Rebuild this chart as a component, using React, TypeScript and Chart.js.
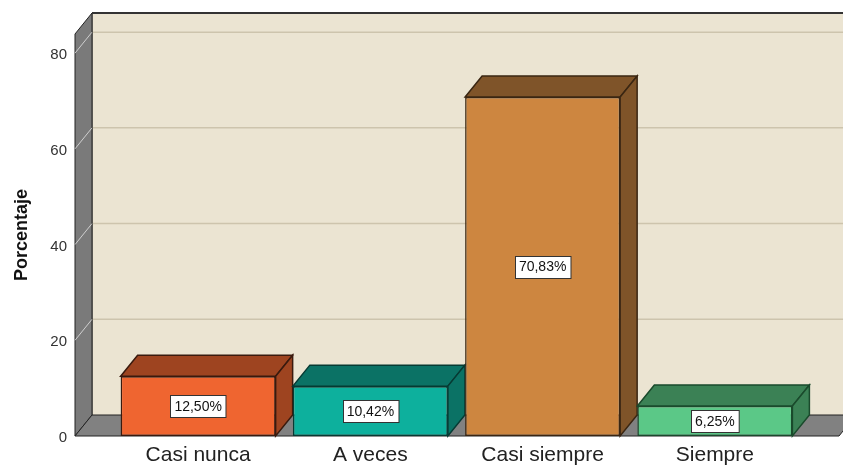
import React, { useEffect, useRef } from 'react';
import { Chart, registerables } from 'chart.js';

Chart.register(...registerables);

const categories = ['Casi nunca', 'A veces', 'Casi siempre', 'Siempre'];
const percentages = [12.5, 10.42, 70.83, 6.25];
const yTicks = [0, 20, 40, 60, 80];
const yMax = 84;
const yTitle = 'Porcentaje';

const frontColors = ['#ef6530', '#0db09d', '#cd8640', '#5bc887'];
const shadeColors = ['#9e4420', '#0b7265', '#7f5429', '#3b8155'];
const edgeColors = ['#3a1a0e', '#063a33', '#3a2612', '#1a4a2c'];

const DX = 17;
const DY = -21;
const WALL_LEFT_EXT = 37;
const FLOOR_RIGHT_EXT = 38;

function poly(ctx: CanvasRenderingContext2D, pts: number[][], fill: string, stroke: string, lw = 1) {
  ctx.beginPath();
  ctx.moveTo(pts[0][0], pts[0][1]);
  for (let i = 1; i < pts.length; i++) ctx.lineTo(pts[i][0], pts[i][1]);
  ctx.closePath();
  ctx.fillStyle = fill;
  ctx.fill();
  ctx.strokeStyle = stroke;
  ctx.lineWidth = lw;
  ctx.stroke();
}

const box3d = {
  id: 'box3d',
  beforeDatasetsDraw(chart: any) {
    const { ctx, chartArea } = chart;
    const y = chart.scales.y;
    const base = y.getPixelForValue(0);
    const top = y.getPixelForValue(y.max);
    const l = chartArea.left - WALL_LEFT_EXT;
    const r = chartArea.right + FLOOR_RIGHT_EXT;
    ctx.save();
    // back wall
    ctx.fillStyle = '#ebe4d2';
    ctx.fillRect(l + DX, top + DY, r - l + 40, base - top);
    // grid lines on back wall
    ctx.strokeStyle = '#cdc4ad';
    ctx.lineWidth = 1.5;
    yTicks.forEach((v) => {
      if (v === 0) return;
      const py = y.getPixelForValue(v);
      ctx.beginPath();
      ctx.moveTo(l + DX, py + DY);
      ctx.lineTo(r + DX + 40, py + DY);
      ctx.stroke();
    });
    // back wall left edge
    ctx.strokeStyle = '#2a2a2a';
    ctx.lineWidth = 1;
    ctx.beginPath();
    ctx.moveTo(l + DX, top + DY);
    ctx.lineTo(l + DX, base + DY);
    ctx.stroke();
    // left side wall
    poly(ctx, [[l, base], [l, top], [l + DX, top + DY], [l + DX, base + DY]], '#7a7a7a', '#222');
    // floor
    poly(ctx, [[l, base], [r, base], [r + DX, base + DY], [l + DX, base + DY]], '#818181', '#222');
    // tick diagonals across side wall
    ctx.strokeStyle = 'rgba(235,235,235,0.75)';
    ctx.lineWidth = 1;
    yTicks.forEach((v) => {
      if (v === 0) return;
      const py = y.getPixelForValue(v);
      ctx.beginPath();
      ctx.moveTo(l, py);
      ctx.lineTo(l + DX, py + DY);
      ctx.stroke();
    });
    // top edge of back wall
    ctx.strokeStyle = '#333';
    ctx.lineWidth = 2;
    ctx.beginPath();
    ctx.moveTo(l + DX, top + DY);
    ctx.lineTo(r + DX + 40, top + DY);
    ctx.stroke();
    // bar tops and sides
    const meta = chart.getDatasetMeta(0);
    meta.data.forEach((bar: any, i: number) => {
      const p = bar.getProps(['x', 'y', 'base', 'width'], true);
      const bl = p.x - p.width / 2;
      const br = p.x + p.width / 2;
      poly(ctx, [[bl, p.y], [bl + DX, p.y + DY], [br + DX, p.y + DY], [br, p.y]], shadeColors[i], edgeColors[i], 1.5);
      poly(ctx, [[br, p.y], [br + DX, p.y + DY], [br + DX, p.base + DY], [br, p.base]], shadeColors[i], edgeColors[i], 1.5);
    });
    ctx.restore();
  },
  afterDatasetsDraw(chart: any) {
    const { ctx } = chart;
    const meta = chart.getDatasetMeta(0);
    ctx.save();
    ctx.font = '14px "Liberation Sans", Arial, sans-serif';
    ctx.textAlign = 'center';
    ctx.textBaseline = 'middle';
    meta.data.forEach((bar: any, i: number) => {
      const p = bar.getProps(['x', 'y', 'base', 'width'], true);
      const text = percentages[i].toFixed(2).replace('.', ',') + '%';
      const w = ctx.measureText(text).width + 8;
      const h = 22;
      const cy = (p.y + p.base) / 2;
      const bx = Math.round(p.x - w / 2) + 0.5;
      const by = Math.round(cy - h / 2) + 0.5;
      ctx.fillStyle = '#ffffff';
      ctx.fillRect(bx, by, w, h);
      ctx.strokeStyle = '#333';
      ctx.lineWidth = 1;
      ctx.strokeRect(bx, by, w, h);
      ctx.fillStyle = '#111';
      ctx.fillText(text, p.x, cy + 1);
    });
    ctx.restore();
  },
};

export default function App() {
  const ref = useRef<HTMLCanvasElement | null>(null);
  useEffect(() => {
    if (!ref.current) return;
    const chart = new Chart(ref.current, {
      type: 'bar',
      data: {
        labels: categories,
        datasets: [
          {
            data: percentages,
            backgroundColor: frontColors,
            borderColor: edgeColors,
            borderWidth: 1.5,
            borderSkipped: false,
            categoryPercentage: 1,
            barPercentage: 0.9,
          },
        ],
      },
      options: {
        animation: false,
        responsive: false,
        devicePixelRatio: 1,
        layout: { padding: { top: 34, right: 42, left: 0, bottom: 0 } },
        plugins: { legend: { display: false }, tooltip: { enabled: false } },
        scales: {
          x: {
            offset: true,
            grid: { display: false, drawTicks: false },
            border: { display: false },
            ticks: {
              color: '#222',
              padding: 7,
              font: { family: '"Liberation Sans", Arial, sans-serif', size: 21 },
            },
            afterFit: (s: any) => {
              s.height = 31;
              s.paddingLeft = 0;
              s.paddingRight = 0;
              s.paddingTop = 0;
              s.paddingBottom = 0;
            },
          },
          y: {
            min: 0,
            max: yMax,
            grid: { display: false, drawTicks: false },
            border: { display: false },
            afterBuildTicks: (s: any) => {
              s.ticks = yTicks.map((v) => ({ value: v }));
            },
            ticks: {
              color: '#333',
              padding: 45,
              labelOffset: 2,
              font: { family: '"Liberation Sans", Arial, sans-serif', size: 15 },
            },
            title: {
              display: true,
              text: yTitle,
              color: '#111',
              padding: { top: 11, bottom: 0 },
              font: { family: '"Liberation Sans", Arial, sans-serif', size: 18, weight: 'bold' },
            },
            afterFit: (s: any) => {
              s.width = 112;
              s.paddingTop = 0;
              s.paddingBottom = 0;
              s.paddingLeft = 0;
              s.paddingRight = 0;
            },
          },
        },
      },
      plugins: [box3d],
    } as any);
    return () => chart.destroy();
  }, []);
  return (
    <div style={{ position: 'fixed', left: 0, top: 0, width: 843, height: 467, background: '#fff' }}>
      <canvas ref={ref} width={843} height={467} style={{ display: 'block' }} />
    </div>
  );
}
